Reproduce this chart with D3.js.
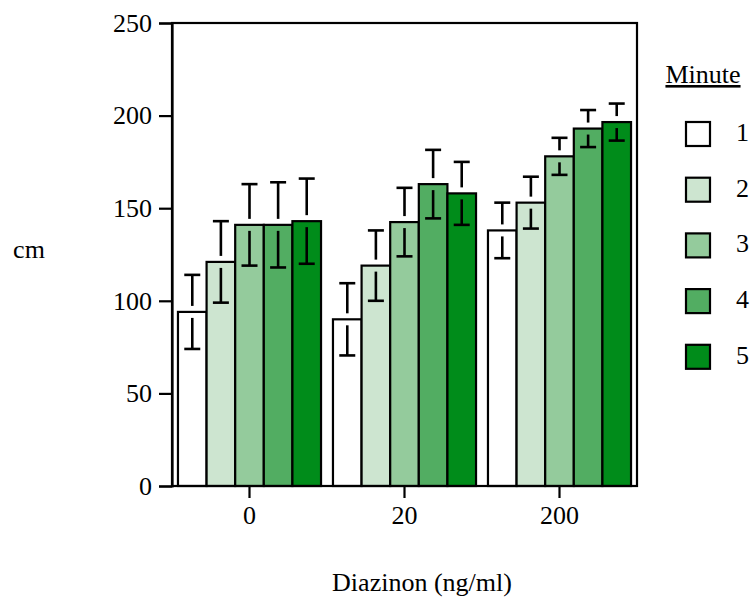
<!DOCTYPE html>
<html><head><meta charset="utf-8">
<script src="https://cdn.jsdelivr.net/npm/d3@7"></script>
<style>body{margin:0;background:#fff}svg{display:block}</style>
</head><body>
<script>
const categories = ["0", "20", "200"];
const seriesNames = ["1", "2", "3", "4", "5"];
const means = [
  [94, 121, 141, 141, 143],
  [90, 119, 142.5, 163, 158],
  [138, 153, 178, 193, 196.5]
];
const errors = [
  [20, 22, 22, 23, 23],
  [19.5, 19, 18.5, 18.5, 17],
  [15, 14, 10, 10, 10]
];
const colors = ["#ffffff", "#cde5d0", "#94cb9c", "#52ad62", "#008c1a"];
const yTicks = [0, 50, 100, 150, 200, 250];

const W = 752, H = 600;
const m = {left: 172, right: 637, top: 23, bottom: 486};
const FS = 26;
const FONT = "'Liberation Serif'";

const svg = d3.select("body").append("svg").attr("width", W).attr("height", H);

const x0 = d3.scaleBand().domain(categories).range([m.left, m.right]).paddingInner(0.077).paddingOuter(0.0385);
const x1 = d3.scaleBand().domain(seriesNames).range([0, x0.bandwidth()]).padding(0);
const y = d3.scaleLinear().domain([0, 250]).range([m.bottom, m.top]);

// bars
const g = svg.append("g");
categories.forEach((c, ci) => {
  const gg = g.append("g").attr("transform", `translate(${x0(c)},0)`);
  seriesNames.forEach((s, si) => {
    const v = means[ci][si];
    gg.append("rect")
      .attr("x", x1(s)).attr("width", x1.bandwidth())
      .attr("y", y(v)).attr("height", y(0) - y(v))
      .attr("fill", colors[si]).attr("stroke", "#000").attr("stroke-width", 2.2);
  });
  seriesNames.forEach((s, si) => {
    const v = means[ci][si], e = errors[ci][si];
    const cx = x1(s) + x1.bandwidth() / 2;
    const gap = 6;
    const ep = gg.append("g").attr("stroke", "#000").attr("stroke-width", 2.6).attr("fill", "none");
    ep.append("line").attr("x1", cx).attr("x2", cx).attr("y1", y(v + e)).attr("y2", y(v) - gap);
    ep.append("line").attr("x1", cx).attr("x2", cx).attr("y1", y(v) + gap).attr("y2", y(v - e));
    ep.append("line").attr("x1", cx - 8).attr("x2", cx + 8).attr("y1", y(v + e)).attr("y2", y(v + e));
    ep.append("line").attr("x1", cx - 8).attr("x2", cx + 8).attr("y1", y(v - e)).attr("y2", y(v - e));
  });
});

// frame
svg.append("rect").attr("x", m.left).attr("y", m.top)
  .attr("width", m.right - m.left).attr("height", m.bottom - m.top)
  .attr("fill", "none").attr("stroke", "#000").attr("stroke-width", 2.2);

// y axis
const yAxis = svg.append("g").attr("transform", `translate(${m.left},0)`)
  .call(d3.axisLeft(y).tickValues(yTicks).tickSize(13).tickPadding(7));
yAxis.select(".domain").attr("stroke-width", 2.2);
yAxis.selectAll(".tick line").attr("stroke-width", 2.2);
yAxis.selectAll("text").style("font-family", FONT).style("font-size", FS + "px").attr("fill", "#000");

// x axis
const xAxis = svg.append("g").attr("transform", `translate(0,${m.bottom})`)
  .call(d3.axisBottom(x0).tickSize(12).tickPadding(8).tickSizeOuter(0));
xAxis.select(".domain").remove();
xAxis.selectAll(".tick line").attr("stroke-width", 2.2);
xAxis.selectAll("text").style("font-family", FONT).style("font-size", FS + "px").attr("fill", "#000");

// axis titles
svg.append("text").attr("x", 29).attr("y", 258).attr("text-anchor", "middle")
  .style("font-family", FONT).style("font-size", FS + "px").text("cm");
svg.append("text").attr("x", 422).attr("y", 591).attr("text-anchor", "middle")
  .style("font-family", FONT).style("font-size", FS + "px").text("Diazinon (ng/ml)");

// legend
const lg = svg.append("g");
lg.append("text").attr("x", 703).attr("y", 83).attr("text-anchor", "middle")
  .style("font-family", FONT).style("font-size", FS + "px").attr("text-decoration", "underline").text("Minute");
seriesNames.forEach((s, i) => {
  const cy = 134 + i * 55.7;
  lg.append("rect").attr("x", 686).attr("y", cy - 12).attr("width", 24).attr("height", 24)
    .attr("fill", colors[i]).attr("stroke", "#000").attr("stroke-width", 2.2);
  lg.append("text").attr("x", 736).attr("y", cy + 7)
    .style("font-family", FONT).style("font-size", FS + "px").text(s);
});
</script>
</body></html>
